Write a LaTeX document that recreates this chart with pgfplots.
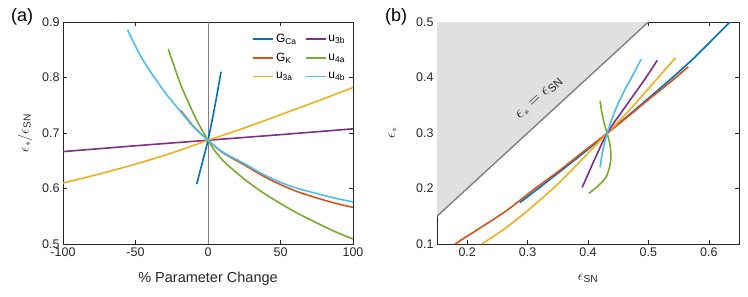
\documentclass[border=0pt]{standalone}
\usepackage{fontspec}
\setmainfont{Liberation Sans}
\usepackage{pgfplots}
\pgfplotsset{compat=1.18}
\definecolor{axc}{RGB}{38,38,38}
\definecolor{mblue}{rgb}{0,0.447,0.741}
\definecolor{morange}{rgb}{0.850,0.325,0.098}
\definecolor{myellow}{rgb}{0.929,0.694,0.125}
\definecolor{mpurple}{rgb}{0.494,0.184,0.556}
\definecolor{mgreen}{rgb}{0.466,0.674,0.188}
\definecolor{mcyan}{rgb}{0.301,0.745,0.933}
\definecolor{shade}{RGB}{224,224,224}
\definecolor{sline}{RGB}{128,128,128}
\pgfplotsset{mystyle/.style={
  scale only axis, height=222bp,
  axis line style={draw=axc, line width=0.6bp},
  tick style={draw=axc, line width=0.6bp},
  major tick length=4bp, tick align=inside,
  ticklabel style={font=\fontsize{12.5bp}{14bp}\selectfont, text=axc},
  /pgf/number format/assume math mode=true,
  label style={font=\fontsize{14.5bp}{16bp}\selectfont, text=axc},
  clip mode=individual,
}}
\begin{document}
\begin{tikzpicture}
\path[use as bounding box] (-63bp,-53bp) rectangle (685bp,244bp);
\begin{axis}[mystyle, at={(0,0)}, anchor=south west, width=290bp,
  xmin=-100, xmax=100, ymin=0.5, ymax=0.9,
  xtick={-100,-50,0,50,100}, ytick={0.5,0.6,0.7,0.8,0.9},
  yticklabel style={/pgf/number format/.cd, fixed, fixed zerofill, precision=1},
  xlabel={\% Parameter Change},
  ylabel={$\epsilon_*/\epsilon_{\mathrm{SN}}$},
  xlabel style={at={(axis description cs:0.5,-0.155)}, anchor=center},
  ylabel style={at={(axis description cs:-0.131,0.5)}, anchor=center},
  legend columns=2,
  legend cell align=left,
  legend image code/.code={\draw[#1, line width=1.8bp] (0bp,0bp) -- (20bp,0bp);},
  legend style={at={(0.99,0.975)}, anchor=north east, draw=none, fill=none,
    font=\fontsize{12bp}{13.5bp}\selectfont,
    nodes={inner ysep=4.6bp},
    /tikz/every even column/.append style={column sep=6bp}},
]
\addplot[sline, line width=0.6bp, forget plot] coordinates {(0,0.5) (0,0.9)};
% G_Ca
\addplot[mblue, line width=1.6bp, smooth] coordinates {
(-7.8,0.608) (-4,0.646) (0,0.687) (4.5,0.745) (9,0.8105)};
\addlegendentry{G\textsubscript{Ca}}
% u3b
\addplot[mpurple, line width=1.6bp] coordinates {
(-100,0.6665) (-50,0.677) (0,0.687) (50,0.697) (100,0.7075)};
\addlegendentry{u\textsubscript{3b}}
% G_K
\addplot[morange, line width=1.6bp, smooth] coordinates {
(-18.9,0.741) (-10,0.712) (0,0.687) (10,0.665) (25,0.6425) (37,0.624) (50,0.607) (62,0.594) (75,0.583) (87,0.574) (100,0.566)};
\addlegendentry{G\textsubscript{K}}
% u4a
\addplot[mgreen, line width=1.6bp, smooth] coordinates {
(-27.4,0.851) (-22,0.810) (-18.2,0.783) (-13,0.752) (-7.8,0.723) (-4,0.705) (0,0.687) (5,0.667) (12,0.646) (25,0.617) (37,0.594) (50,0.573) (62,0.555) (75,0.538) (87,0.523) (100,0.509)};
\addlegendentry{u\textsubscript{4a}}
% u3a
\addplot[myellow, line width=1.6bp, smooth] coordinates {
(-100,0.610) (-75,0.626) (-50,0.644) (-25,0.664) (0,0.687) (25,0.709) (50,0.733) (75,0.757) (100,0.782)};
\addlegendentry{u\textsubscript{3a}}
% u4b
\addplot[mcyan, line width=1.6bp, smooth] coordinates {
(-55.5,0.886) (-47,0.841) (-38,0.804) (-29,0.771) (-20,0.742) (-10,0.711) (0,0.687) (10,0.666) (25,0.645) (37,0.627) (50,0.611) (62,0.600) (75,0.591) (87,0.583) (100,0.5757)};
\addlegendentry{u\textsubscript{4b}}
\node[font=\fontsize{18bp}{20bp}\selectfont, text=black] at (rel axis cs:-0.141,1.022) {(a)};
\end{axis}
\begin{axis}[mystyle, at={(374bp,0)}, anchor=south west, width=302bp,
  xmin=0.15, xmax=0.65, ymin=0.1, ymax=0.5,
  xtick={0.2,0.3,0.4,0.5,0.6}, ytick={0.1,0.2,0.3,0.4,0.5},
  xticklabel style={/pgf/number format/.cd, fixed, fixed zerofill, precision=1},
  yticklabel style={/pgf/number format/.cd, fixed, fixed zerofill, precision=1},
  xlabel={$\epsilon_{\mathrm{SN}}$},
  ylabel={$\epsilon_*$},
  xlabel style={at={(axis description cs:0.5,-0.155)}, anchor=center},
  ylabel style={at={(axis description cs:-0.146,0.5)}, anchor=center},
]
\addplot[fill=shade, draw=none] coordinates {(0.15,0.15) (0.5,0.5) (0.15,0.5)} -- cycle;
\addplot[sline, line width=1.4bp] coordinates {(0.15,0.15) (0.5,0.5)};
\node[rotate=42.5, font=\fontsize{16bp}{17bp}\selectfont, text=axc] at (axis cs:0.3195,0.3625) {$\epsilon_* = \epsilon_{\mathrm{SN}}$};
% G_Ca
\addplot[mblue, line width=1.6bp, smooth] coordinates {
(0.287,0.1745) (0.32,0.202) (0.36,0.236) (0.40,0.2705) (0.4317,0.2995) (0.47,0.3345) (0.50,0.3625) (0.54,0.400) (0.58,0.440) (0.635,0.5)};
% G_K
\addplot[morange, line width=1.6bp, smooth] coordinates {
(0.1797,0.100) (0.22,0.128) (0.265,0.160) (0.31,0.198) (0.353,0.2325) (0.39,0.2645) (0.4317,0.2995) (0.47,0.333) (0.5,0.360) (0.54,0.395) (0.566,0.4195)};
% u3a
\addplot[myellow, line width=1.6bp, smooth] coordinates {
(0.224,0.100) (0.26,0.126) (0.30,0.160) (0.35,0.208) (0.39,0.252) (0.4317,0.2995) (0.47,0.343) (0.5125,0.3955) (0.545,0.4357)};
% u3b
\addplot[mpurple, line width=1.6bp, smooth] coordinates {
(0.3904,0.202) (0.41,0.250) (0.4317,0.2995) (0.46,0.3445) (0.4932,0.3955) (0.5147,0.431)};
% u4a
\addplot[mgreen, line width=1.6bp, smooth] coordinates {
(0.401,0.191) (0.4165,0.2045) (0.430,0.221) (0.436,0.240) (0.438,0.257) (0.4365,0.278) (0.4317,0.2995) (0.4275,0.315) (0.4245,0.329) (0.422,0.343) (0.420,0.358)};
% u4b
\addplot[mcyan, line width=1.6bp, smooth] coordinates {
(0.420,0.238) (0.4231,0.260) (0.4269,0.280) (0.4317,0.2995) (0.4378,0.320) (0.4448,0.340) (0.4529,0.360) (0.4620,0.380) (0.4721,0.400) (0.488,0.433)};
\node[font=\fontsize{18bp}{20bp}\selectfont, text=black] at (rel axis cs:-0.135,1.022) {(b)};
\end{axis}
\end{tikzpicture}
\end{document}
